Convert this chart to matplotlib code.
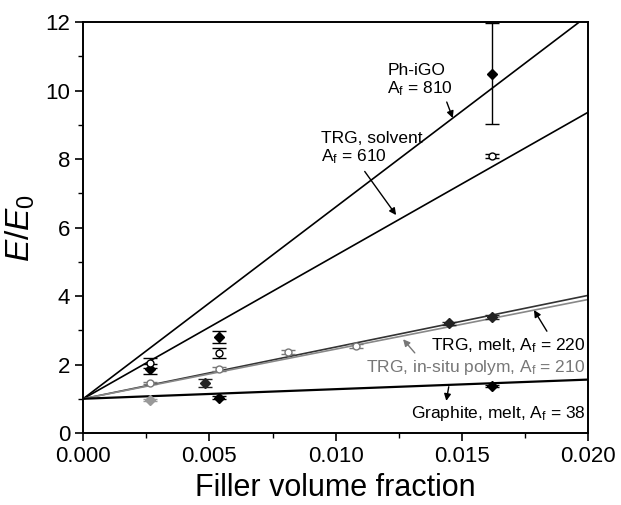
import numpy as np
import matplotlib
matplotlib.use("Agg")
import matplotlib.pyplot as plt
from matplotlib.ticker import MultipleLocator

plt.rcParams['font.family'] = ['Liberation Sans', 'DejaVu Sans']
plt.rcParams['mathtext.fontset'] = 'custom'
plt.rcParams['mathtext.rm'] = 'Liberation Sans'
plt.rcParams['mathtext.it'] = 'Liberation Sans:italic'

# model lines: value of E/E0 at phi = 0 and phi = 0.02
line_x = [0.0, 0.02]
line_phigo = [1.0, 12.2]
line_solvent = [1.0, 9.37]
line_melt = [1.0, 4.02]
line_insitu = [1.0, 3.9]
line_graphite = [1.0, 1.56]

# measured points
phigo_x = [0.00266, 0.00536, 0.0162]
phigo_y = [1.87, 2.8, 10.5]
phigo_err = [0.15, 0.18, 1.48]

solvent_x = [0.00266, 0.00536, 0.0162]
solvent_y = [2.04, 2.34, 8.09]
solvent_err = [0.15, 0.15, 0.06]

melt_x = [0.00484, 0.0145, 0.0162]
melt_y = [1.46, 3.2, 3.39]
melt_err = [0.12, 0.05, 0.05]

insitu_x = [0.00266, 0.00536, 0.0081, 0.0108]
insitu_y = [1.46, 1.87, 2.36, 2.54]
insitu_err = [0.04, 0.05, 0.06, 0.05]

graphite_x = [0.00536, 0.0162]
graphite_y = [1.03, 1.37]
graphite_err = [0.05, 0.04]

# the grey point at low loading
graphite_grey_x = [0.00266]
graphite_grey_y = [0.96]
graphite_grey_err = [0.04]

fig = plt.figure(figsize=(6.21, 5.05), dpi=100)
ax = fig.add_axes([0.134, 0.1426, 0.813, 0.8134])

ax.plot(line_x, line_phigo, color="black", lw=1.2)
ax.plot(line_x, line_solvent, color="black", lw=1.2)
ax.plot(line_x, line_melt, color="#333333", lw=1.2)
ax.plot(line_x, line_insitu, color="#888888", lw=1.2)
ax.plot(line_x, line_graphite, color="black", lw=1.6)

ekw = dict(capsize=5, elinewidth=1.0, capthick=1.0, ls="none")
ax.errorbar(phigo_x, phigo_y, yerr=phigo_err, fmt="D", ms=5, color="black", mfc="black", **ekw)
ax.errorbar(solvent_x, solvent_y, yerr=solvent_err, fmt="o", ms=5, color="black", mfc="white", **ekw)
ax.errorbar(melt_x, melt_y, yerr=melt_err, fmt="D", ms=5, color="#222222", mfc="#222222", **ekw)
ax.errorbar(insitu_x, insitu_y, yerr=insitu_err, fmt="o", ms=5, color="#777777", mfc="white", **ekw)
ax.errorbar(graphite_x, graphite_y, yerr=graphite_err, fmt="D", ms=5, color="black", mfc="black", **ekw)
ax.errorbar(graphite_grey_x, graphite_grey_y, yerr=graphite_grey_err, fmt="D", ms=5,
            color="#999999", mfc="#999999", **ekw)

ax.set_xlim(0, 0.02)
ax.set_ylim(0, 12)
ax.xaxis.set_major_locator(MultipleLocator(0.005))
ax.xaxis.set_minor_locator(MultipleLocator(0.0025))
ax.yaxis.set_major_locator(MultipleLocator(2))
ax.yaxis.set_minor_locator(MultipleLocator(1))
ax.xaxis.set_major_formatter(matplotlib.ticker.FormatStrFormatter("%.3f"))
ax.tick_params(which="major", direction="out", length=6, width=1.2, labelsize=16, top=False, right=False)
ax.tick_params(which="minor", direction="out", length=3.5, width=1.0, top=False, right=False)
for s in ax.spines.values():
    s.set_linewidth(1.4)

ax.set_xlabel("Filler volume fraction", fontsize=22, labelpad=4)
ax.set_ylabel(r"$E/E_0$", fontsize=24, labelpad=6)

fs = 12.5
ak = dict(arrowstyle="-|>", color="black", lw=1.0, mutation_scale=10)
ax.annotate("Ph-iGO\nA$_\\mathregular{f}$ = 810", xy=(0.01464, 9.2), xytext=(0.01205, 10.3),
            fontsize=fs, ha="left", va="center", linespacing=1.1,
            arrowprops=dict(ak, relpos=(0.88, 0.0), shrinkA=1, shrinkB=0))
ax.annotate("TRG, solvent\nA$_\\mathregular{f}$ = 610", xy=(0.01246, 6.3), xytext=(0.0094, 8.3),
            fontsize=fs, ha="left", va="center", linespacing=1.1,
            arrowprops=dict(ak, relpos=(0.4, 0.0)))
ax.annotate("TRG, melt, A$_\\mathregular{f}$ = 220", xy=(0.0178, 3.66), xytext=(0.0199, 2.55),
            fontsize=fs, ha="right", va="center", arrowprops=dict(ak, relpos=(0.77, 1.0)))
ax.annotate("TRG, in-situ polym, A$_\\mathregular{f}$ = 210", xy=(0.0126, 2.8), xytext=(0.0199, 1.92),
            fontsize=fs, ha="right", va="center", color="#777777",
            arrowprops=dict(ak, color="#777777", relpos=(0.24, 1.0)))
ax.annotate("Graphite, melt, A$_\\mathregular{f}$ = 38", xy=(0.01448, 1.35), xytext=(0.0199, 0.58),
            fontsize=fs, ha="right", va="center",
            arrowprops=dict(arrowstyle="<|-", color="black", lw=1.0, mutation_scale=10,
                            shrinkA=0, shrinkB=14, relpos=(0.2, 1.0)))

fig.savefig("out.png", dpi=100)
